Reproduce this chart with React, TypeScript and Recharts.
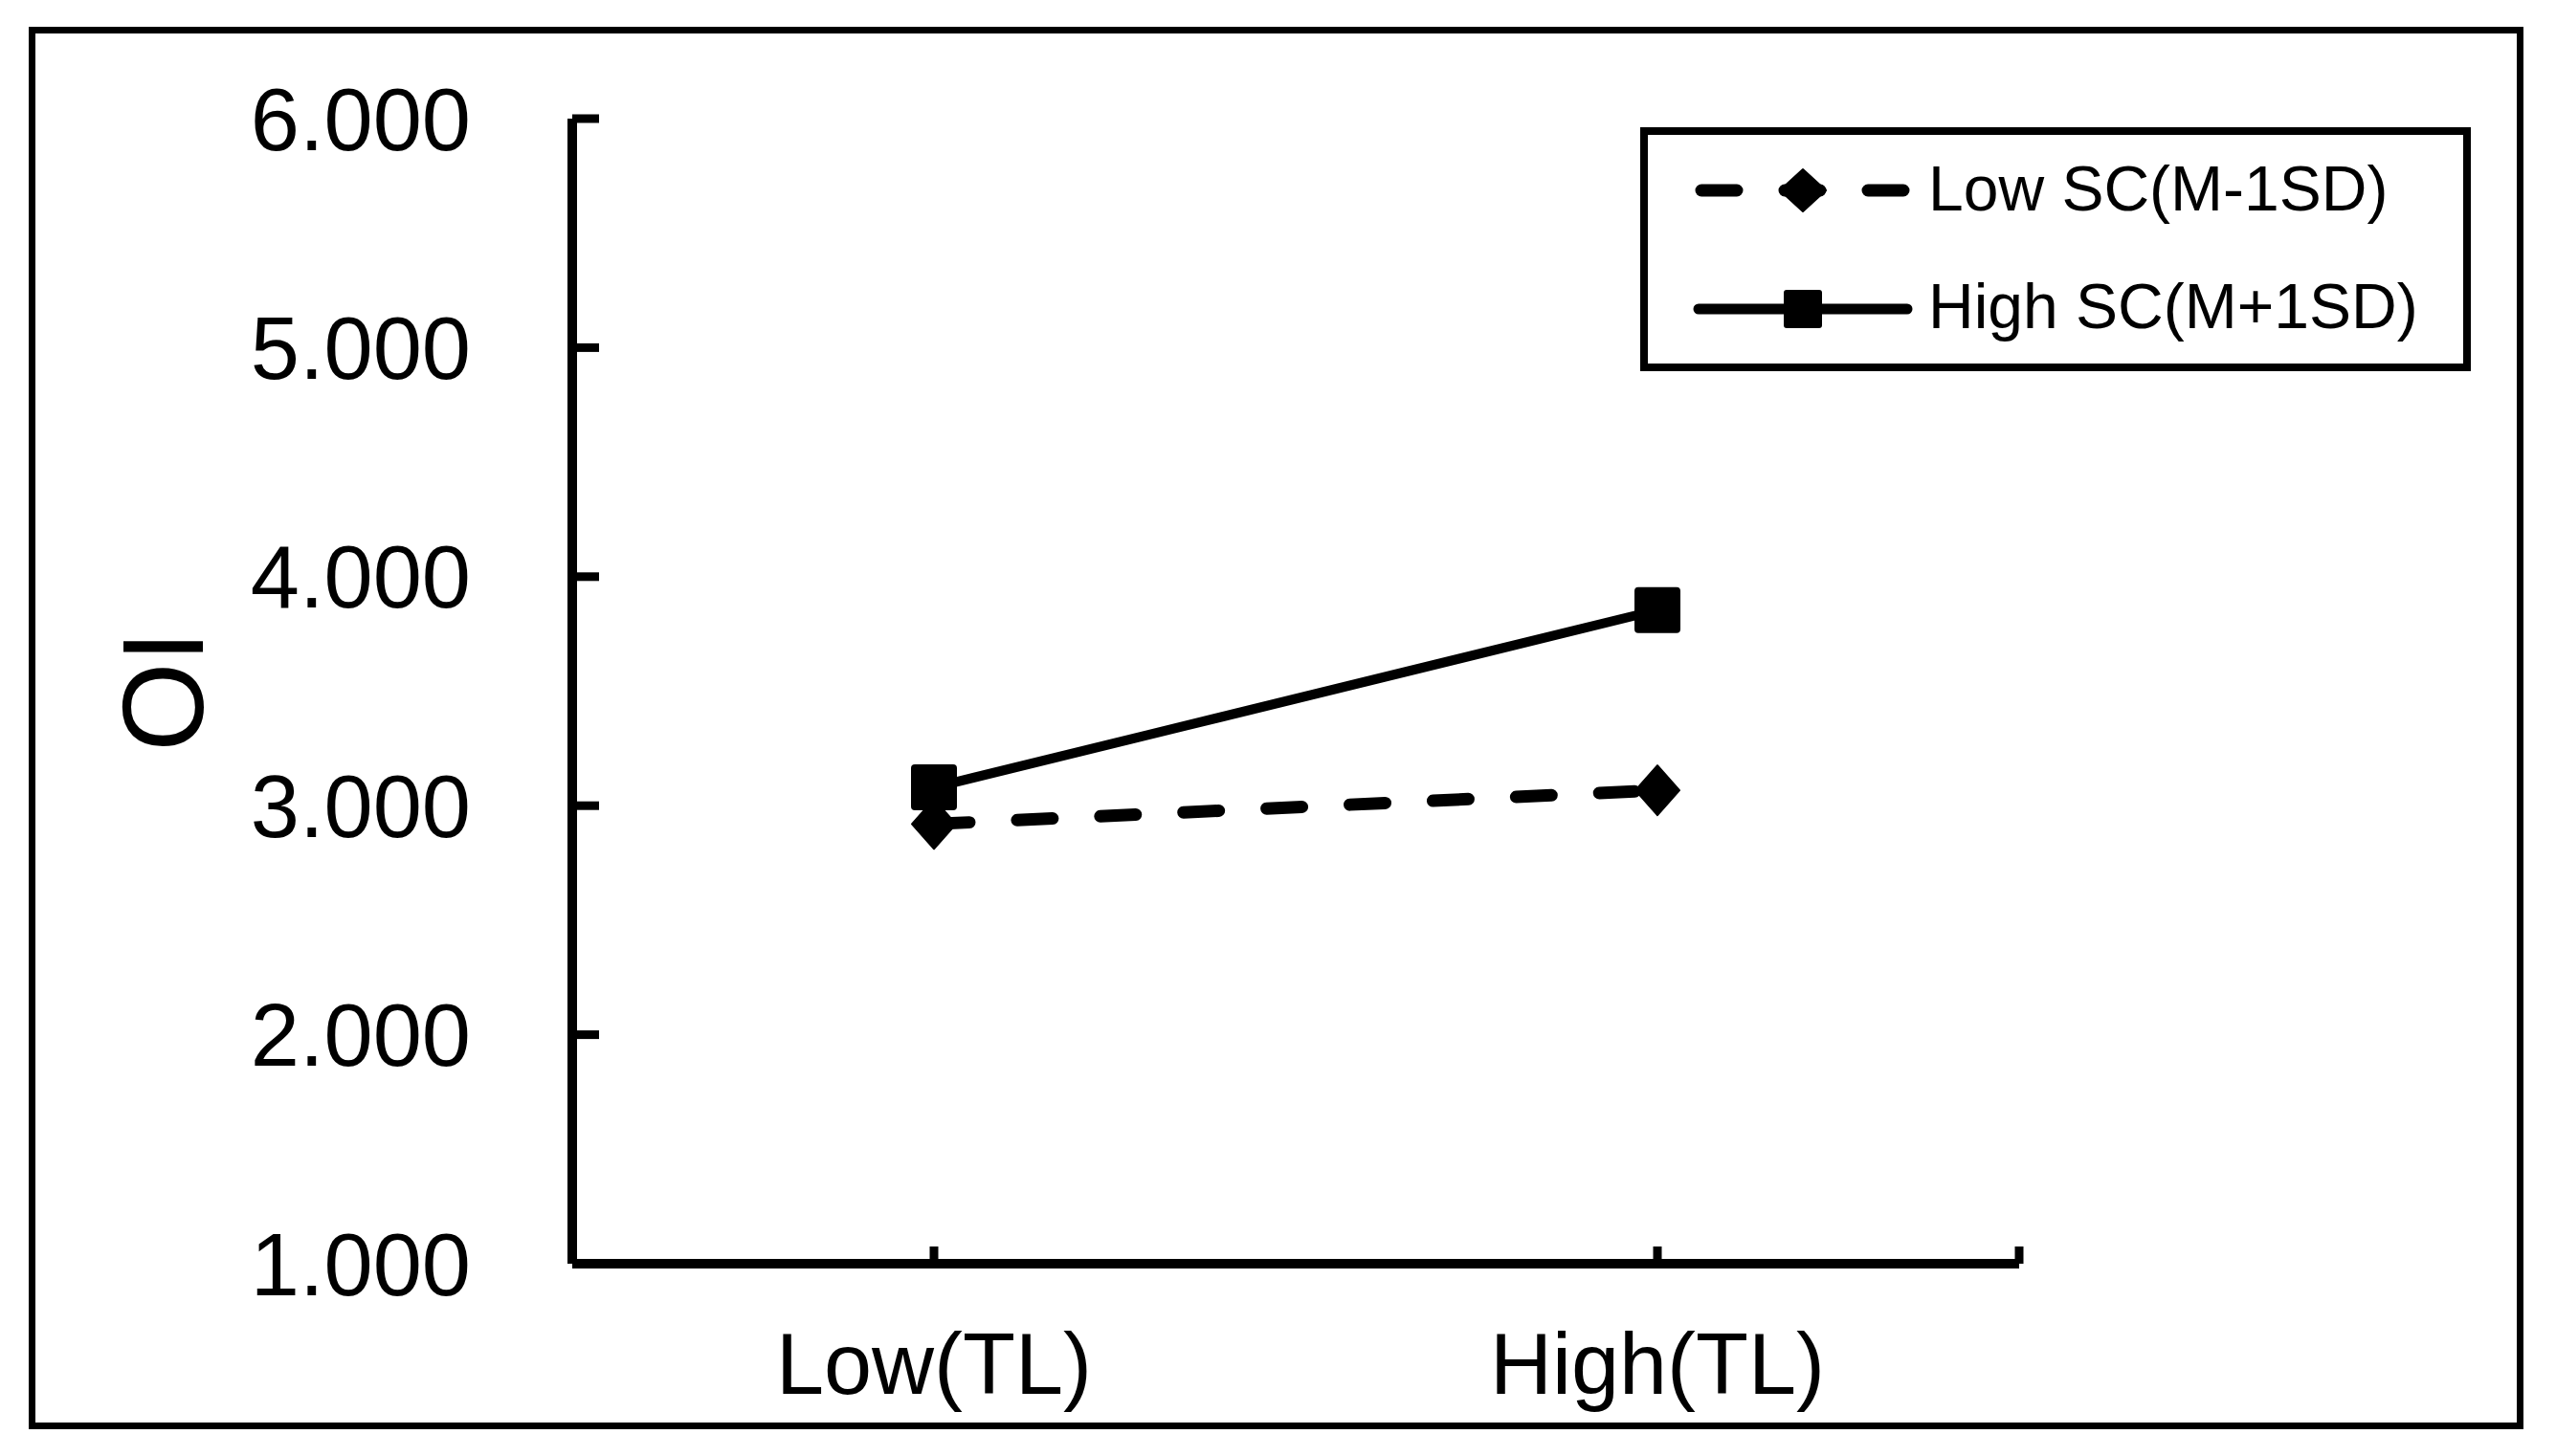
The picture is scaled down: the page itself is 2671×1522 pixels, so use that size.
import React from 'react';
import { LineChart, Line, XAxis, YAxis, Label } from 'recharts';

const categories = ['Low(TL)', 'High(TL)'];
const lowSC = [2.92, 3.067];
const highSC = [3.08, 3.854];
const yTicks = [1, 2, 3, 4, 5, 6];
const seriesNames = ['Low SC(M-1SD)', 'High SC(M+1SD)'];
const yTitle = 'OI';

const data = categories.map((c, i) => ({ x: i + 0.5, name: c, low: lowSC[i], high: highSC[i] }));
const xTicks = [...categories.map((_, i) => i + 0.5), categories.length];

const FONT = '"Liberation Sans", Arial, Helvetica, sans-serif';

const Diamond = (props: any) => {
  const { cx, cy, index } = props;
  if (cx == null || cy == null) return null;
  return (
    <polygon
      key={`dm-${index}`}
      points={`${cx},${cy - 26} ${cx + 23},${cy} ${cx},${cy + 26} ${cx - 23},${cy}`}
      fill="#000"
      stroke="#000"
      strokeWidth={2}
      strokeLinejoin="round"
    />
  );
};

const Square = (props: any) => {
  const { cx, cy, index } = props;
  if (cx == null || cy == null) return null;
  return <rect key={`sq-${index}`} x={cx - 24} y={cy - 24} width={48} height={48} rx={4} fill="#000" />;
};

const YTitle = (props: any) => {
  const vb = props.viewBox || {};
  const cx = vb.x + vb.width - 428;
  const cy = vb.y + vb.height / 2;
  return (
    <text
      x={cx}
      y={cy}
      transform={`rotate(-90 ${cx} ${cy})`}
      textAnchor="middle"
      dominantBaseline="central"
      fontFamily={FONT}
      fontSize={120}
      fill="#000"
    >
      {yTitle}
    </text>
  );
};

const LegendBox = () => (
  <svg
    width={868}
    height={255}
    style={{ position: 'absolute', left: 1714, top: 133, overflow: 'visible' }}
  >
    <rect x={4} y={4} width={860} height={247} fill="#fff" stroke="#000" strokeWidth={8} />
    <line x1={64} y1={66} x2={276} y2={66} stroke="#000" strokeWidth={13} strokeDasharray="37 50" strokeLinecap="round" />
    <polygon
      points={`170,${66 - 22} ${170 + 24},66 170,${66 + 22} ${170 - 24},66`}
      fill="#000"
      stroke="#000"
      strokeWidth={2}
      strokeLinejoin="round"
    />
    <text x={301} y={87} fontFamily={FONT} fontSize={66} fill="#000">
      {seriesNames[0]}
    </text>
    <line x1={61} y1={190} x2={279} y2={190} stroke="#000" strokeWidth={11} strokeLinecap="round" />
    <rect x={150} y={170} width={40} height={40} rx={3} fill="#000" />
    <text x={301} y={210} fontFamily={FONT} fontSize={66} fill="#000">
      {seriesNames[1]}
    </text>
  </svg>
);

export default function App() {
  return (
    <div style={{ position: 'absolute', left: 0, top: 0, width: 2671, height: 1522, background: '#fff', overflow: 'hidden' }}>
      <div
        style={{
          position: 'absolute',
          left: 30,
          top: 28,
          width: 2607,
          height: 1466,
          border: '7px solid #000',
          boxSizing: 'border-box',
          pointerEvents: 'none',
        }}
      />
      <div style={{ position: 'absolute', left: 0, top: 0 }}>
        <LineChart
          width={2671}
          height={1522}
          data={data}
          margin={{ top: 124, right: 561, left: 298, bottom: 51 }}
        >
          <XAxis
            dataKey="x"
            type="number"
            domain={[0, categories.length]}
            ticks={xTicks}
            tickFormatter={(v: number) => {
              const idx = Math.round(v - 0.5);
              return Math.abs(v - (idx + 0.5)) < 1e-6 && categories[idx] ? categories[idx] : '';
            }}
            height={150}
            axisLine={{ stroke: '#000', strokeWidth: 10 }}
            tickLine={{ stroke: '#000', strokeWidth: 9 }}
            tickSize={-18}
            tickMargin={90}
            tick={{ fill: '#000', fontSize: 90, fontFamily: FONT }}
            interval={0}
            allowDecimals
          />
          <YAxis
            type="number"
            domain={[1, 6]}
            ticks={yTicks}
            tickFormatter={(v: number) => v.toFixed(3)}
            width={300}
            axisLine={{ stroke: '#000', strokeWidth: 10 }}
            tickLine={{ stroke: '#000', strokeWidth: 9 }}
            tickSize={-28}
            tickMargin={134}
            tick={{ fill: '#000', fontSize: 92, fontFamily: FONT }}
            interval={0}
          >
            <Label content={<YTitle />} />
          </YAxis>
          <Line
            type="linear"
            dataKey="low"
            name={seriesNames[0]}
            stroke="#000"
            strokeWidth={13}
            strokeDasharray="37 50"
            strokeLinecap="round"
            dot={Diamond}
            activeDot={false}
            isAnimationActive={false}
          />
          <Line
            type="linear"
            dataKey="high"
            name={seriesNames[1]}
            stroke="#000"
            strokeWidth={10}
            dot={Square}
            activeDot={false}
            isAnimationActive={false}
          />
        </LineChart>
      </div>
      <LegendBox />
    </div>
  );
}
